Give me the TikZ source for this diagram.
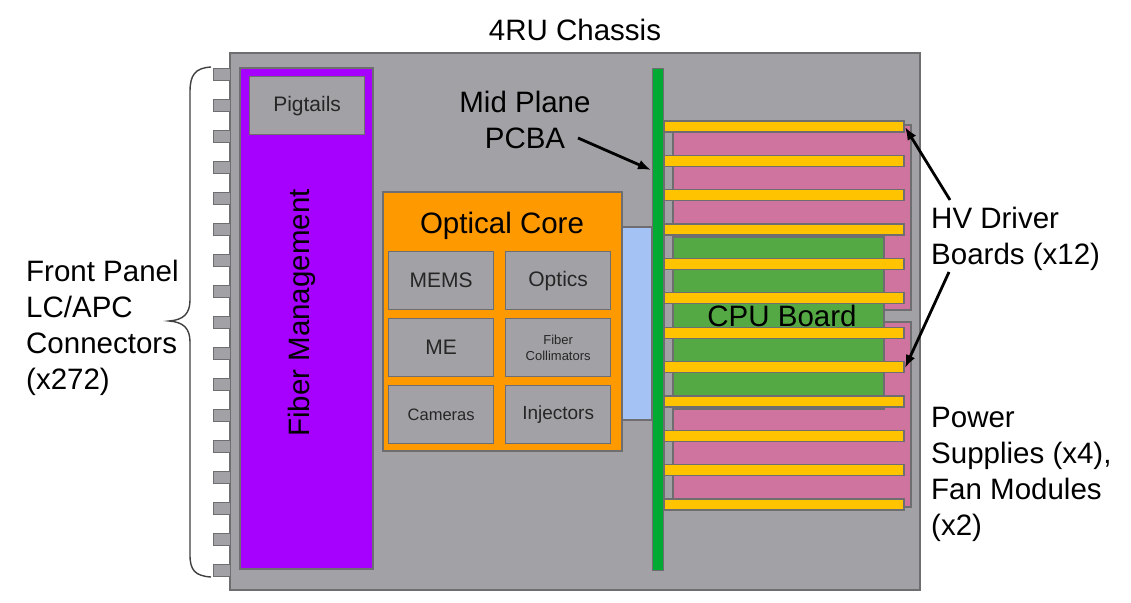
\documentclass[tikz,border=0pt]{standalone}
\usepackage{fontspec}
\setmainfont{Liberation Sans}
\usetikzlibrary{arrows.meta}
\definecolor{chgray}{HTML}{A2A2A6}
\definecolor{edgegray}{HTML}{6E6E70}
\definecolor{fmpurple}{HTML}{A600FF}
\definecolor{ocorange}{HTML}{FF9900}
\definecolor{ltblue}{HTML}{A4C2F4}
\definecolor{midgreen}{HTML}{00AA33}
\definecolor{cpugreen}{HTML}{55A944}
\definecolor{hvyellow}{HTML}{FFC300}
\definecolor{pspink}{HTML}{CF739F}
\tikzset{
  box/.style={draw=edgegray, line width=1.3pt},
  grayblock/.style={box, fill=chgray},
  bigtext/.style={font=\fontsize{29.5}{36}\selectfont, inner sep=0pt, text=black},
  callout/.style={-{Latex[length=13pt,width=10pt]}, line width=2.8pt, black},
  bracecurve/.style={draw=black!75, line width=1.4pt}
}
\begin{document}
\begin{tikzpicture}[x=1pt,y=-1pt]
\useasboundingbox (0,0) rectangle (1131,602);
\fill[white] (0,0) rectangle (1131,602);
% chassis
\draw[grayblock] (230,53) rectangle (920,590);
\node[bigtext, anchor=base] (chassis) at (575,41) {4RU Chassis};
% front panel connector tabs
\foreach \i in {0,...,16}{
  \draw[grayblock, line width=1pt] (213,{68+31*\i}) rectangle (230,{80+31*\i});
}
% brace
\draw[bracecurve] (211,67) .. controls (195,68) and (190,75) .. (190,92)
  -- (190,300) .. controls (190,314) and (183,320) .. (169,321)
  .. controls (183,322) and (190,328) .. (190,342)
  -- (190,555) .. controls (190,570) and (195,576) .. (211,577);
\node[bigtext, anchor=north west, align=left] (front) at (26,260) {Front Panel\\LC/APC\\Connectors\\(x272)};
% fiber management
\draw[box, fill=fmpurple] (240,68) rectangle (373,569);
\node[grayblock, minimum width=115pt, minimum height=58pt, inner sep=0pt, anchor=north west, font=\fontsize{21}{25}\selectfont, text=black!85] (pig) at (249,76) {Pigtails};
\node[bigtext, rotate=90] (fm) at (302,313) {Fiber Management};
% optical core
\draw[box, fill=ocorange] (383,192) rectangle (622,451);
\node[bigtext, font=\fontsize{29.5}{34}\selectfont] (oc) at (502,226) {Optical Core};
\tikzset{cell/.style={grayblock, minimum width=105pt, minimum height=58pt, inner sep=0pt, anchor=north west, text=black!85, align=center}}
\node[cell, font=\fontsize{21}{24}\selectfont] (mems) at (388,251) {MEMS};
\node[cell, font=\fontsize{21}{24}\selectfont] (optics) at (505,251) {Optics};
\node[cell, font=\fontsize{21}{24}\selectfont] (me) at (388,318) {ME};
\node[cell, font=\fontsize{13}{16}\selectfont] (fc) at (505,318) {Fiber\\Collimators};
\node[cell, font=\fontsize{16.5}{20}\selectfont] (cam) at (388,385) {Cameras};
\node[cell, font=\fontsize{19}{22}\selectfont] (inj) at (505,385) {Injectors};
% light blue interface
\draw[box, fill=ltblue] (622,227) rectangle (652,420);
% power supply / fan modules (pink)
\draw[box, fill=pspink] (673,125) rectangle (911,310);
\draw[box, fill=pspink] (673,322) rectangle (911,507);
% gray strip
\draw[grayblock] (664,125) rectangle (673,507);
% CPU board
\draw[box, fill=cpugreen] (673,237) rectangle (884,409);
\node[bigtext] (cpu) at (782,316) {CPU Board};
% HV driver boards
\foreach \i in {0,...,11}{
  \draw[box, fill=hvyellow] (664,{121+34.36*\i}) rectangle (904,{132+34.36*\i});
}
\coordinate (hvtop) at (905,127);
\coordinate (hvlow) at (905,368);
% mid plane
\draw[draw=edgegray, line width=1pt, fill=midgreen] (652,68) rectangle (663,570);
\coordinate (midpt) at (651,170);
\node[bigtext, align=center, anchor=north] (mid) at (525,91) {Mid Plane\\PCBA};
\draw[callout] (578,138) -- (midpt);
% HV driver label
\node[bigtext, align=left, anchor=north west] (hv) at (931,207) {HV Driver\\Boards (x12)};
\draw[callout] (950,200) -- (hvtop);
\draw[callout] (949,272) -- (hvlow);
% power supplies label
\node[bigtext, align=left, anchor=north west] (ps) at (931,407) {Power\\Supplies (x4),\\Fan Modules\\(x2)};
\end{tikzpicture}
\end{document}
